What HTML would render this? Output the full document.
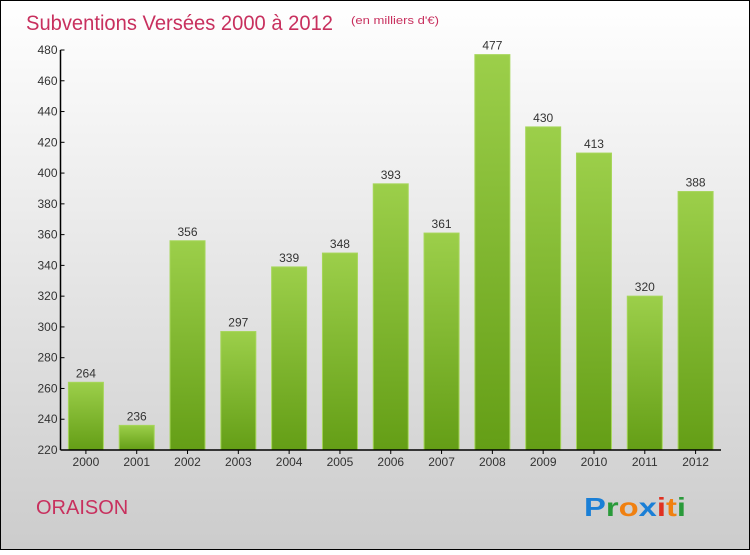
<!DOCTYPE html>
<html><head><meta charset="utf-8"><style>
body{margin:0;width:750px;height:550px;overflow:hidden;font-family:"Liberation Sans",sans-serif}
</style></head><body>
<svg id="c" width="750" height="550" xmlns="http://www.w3.org/2000/svg">
<defs>
<linearGradient id="bg" x1="0" y1="0" x2="0" y2="1"><stop offset="0" stop-color="#ffffff"/><stop offset="1" stop-color="#cccccc"/></linearGradient>
<linearGradient id="bar" x1="0" y1="0" x2="0" y2="1"><stop offset="0" stop-color="#9ccf4a"/><stop offset="1" stop-color="#649e16"/></linearGradient>
</defs>
<rect x="0.5" y="0.5" width="749" height="549" fill="url(#bg)" stroke="#000"/>
<text x="26" y="30" font-size="21" fill="#c8305e" textLength="307" lengthAdjust="spacingAndGlyphs">Subventions Versées 2000 à 2012</text>
<text x="351" y="24" font-size="11" fill="#c8305e" textLength="88" lengthAdjust="spacingAndGlyphs">(en milliers d'€)</text>
<text x="36" y="514" font-size="20" fill="#c8305e">ORAISON</text>
<text x="584" y="516" font-size="26" font-weight="bold" textLength="102" lengthAdjust="spacingAndGlyphs"><tspan fill="#1a7fd6">P</tspan><tspan fill="#2a9a3a">r</tspan><tspan fill="#f08010">o</tspan><tspan fill="#1a7fd6">x</tspan><tspan fill="#e03020">i</tspan><tspan fill="#f08010">t</tspan><tspan fill="#2a9a3a">i</tspan></text>
<g id="plot"></g>
</svg>
<script>
const categories=["2000","2001","2002","2003","2004","2005","2006","2007","2008","2009","2010","2011","2012"];
const values=[264,236,356,297,339,348,393,361,477,430,413,320,388];
const yTicks=[220,240,260,280,300,320,340,360,380,400,420,440,460,480];
const NS="http://www.w3.org/2000/svg";
const g=document.getElementById('plot');
const x0=60.5,x1=721,yMin=220,yMax=480,yB=450,yT=50;
const band=(x1-x0)/categories.length;
const y=v=>yB-(v-yMin)/(yMax-yMin)*(yB-yT);
const xc=i=>x0+band*(i+0.5);
function mk(t,a){const e=document.createElementNS(NS,t);for(const k in a)e.setAttribute(k,a[k]);g.appendChild(e);return e;}
values.forEach((v,i)=>{
 const b=mk('rect',{x:xc(i)-17.5,y:y(v),width:35,height:yB-y(v),fill:'url(#bar)',stroke:'#a6d65a','stroke-width':1});
 
 
 const t=mk('text',{x:xc(i),y:y(v)-5,'text-anchor':'middle','font-size':12,fill:'#333'});t.textContent=v;
 
 
 const c=mk('text',{x:xc(i),y:466,'text-anchor':'middle','font-size':12,fill:'#333'});c.textContent=categories[i];
 
 
});
yTicks.forEach(v=>{
 const l=mk('line',{x1:x0,x2:x0+4,y1:y(v),y2:y(v),stroke:'#000'});
 
 
 const t=mk('text',{x:x0-3,y:y(v)+4,'text-anchor':'end','font-size':12,fill:'#333'});t.textContent=v;
 
 
});
const ya=mk('line',{x1:x0,x2:x0,y1:yT,y2:yB,stroke:'#000','stroke-width':1.5});


const xa=mk('line',{x1:x0,x2:x1,y1:yB,y2:yB,stroke:'#000','stroke-width':1.5});


categories.forEach((c,i)=>{const l=mk('line',{x1:xc(i),x2:xc(i),y1:yB,y2:yB+4,stroke:'#000'});
 
 });
</script>
</body></html>
